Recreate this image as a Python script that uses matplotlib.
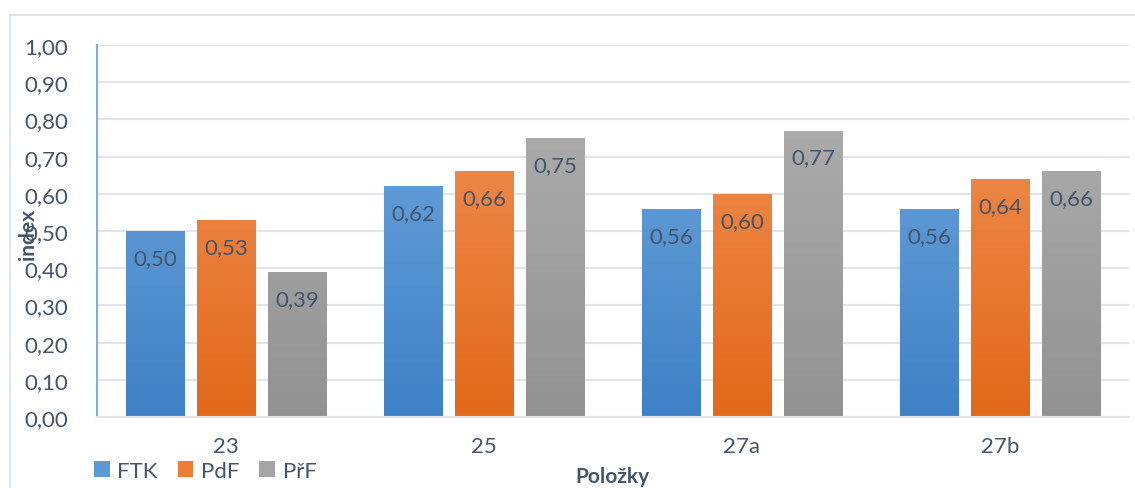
import numpy as np
import matplotlib
matplotlib.use("Agg")
import matplotlib.pyplot as plt
from matplotlib.patches import Rectangle, Patch
from matplotlib.colors import LinearSegmentedColormap

categories = ["23", "25", "27a", "27b"]
series_names = ["FTK", "PdF", "PřF"]
ftk = [0.50, 0.62, 0.56, 0.56]
pdf = [0.53, 0.66, 0.60, 0.64]
prf = [0.39, 0.75, 0.77, 0.66]
y_ticks = [0.0, 0.1, 0.2, 0.3, 0.4, 0.5, 0.6, 0.7, 0.8, 0.9, 1.0]

# (top colour, bottom colour) of each series' vertical gradient
gradients = [("#74AADF", "#3E81C6"), ("#F2965C", "#E2681A"), ("#B2B2B2", "#929292")]
solid = ["#5B9BD5", "#ED7D31", "#A5A5A5"]
text_color = "#44546A"
grid_color = "#E1E5EB"

plt.rcParams["font.family"] = ["Lato", "DejaVu Sans"]

W, H = 1135, 489
fig = plt.figure(figsize=(W / 100, H / 100), dpi=100)
fig.patches.append(Rectangle((10 / W, -0.1), 1.2, (489 - 16) / H + 0.1,
                             transform=fig.transFigure, fill=False,
                             edgecolor="#D9DEE6", linewidth=1.2))

ax = fig.add_axes([97 / W, (H - 418) / H, (1129 - 97) / W, (418 - 46) / H])

x = np.arange(len(categories))
width = 0.225
step = 0.275
all_series = [ftk, pdf, prf]

for i, (vals, (ctop, cbot)) in enumerate(zip(all_series, gradients)):
    bars = ax.bar(x + (i - 1) * step, vals, width, color=solid[i], zorder=2,
                  linewidth=0)
    cmap = LinearSegmentedColormap.from_list(f"g{i}", [cbot, ctop])
    grad = np.linspace(0, 1, 256).reshape(-1, 1)
    for b, v in zip(bars, vals):
        bx = b.get_x()
        bw = b.get_width()
        im = ax.imshow(grad, cmap=cmap, origin="lower", aspect="auto",
                       extent=(bx, bx + bw, 0, 1.0), zorder=2.5,
                       interpolation="bilinear")
        im.set_clip_path(b)
        ax.annotate(f"{v:.2f}".replace(".", ","), (bx + bw / 2, v),
                    xytext=(0, -27), textcoords="offset pixels",
                    ha="center", va="center", fontsize=16, color=text_color,
                    zorder=4)

ax.set_xlim(-0.5, len(categories) - 0.5)
ax.set_ylim(0, 1.0)
ax.set_yticks(y_ticks)
ax.set_yticklabels([f"{t:.2f}".replace(".", ",") for t in y_ticks])
ax.set_xticks(x)
ax.set_xticklabels(categories)
ax.tick_params(axis="both", length=0, labelsize=16, labelcolor=text_color)
ax.tick_params(axis="y", pad=21)
ax.tick_params(axis="x", pad=14)
ax.yaxis.grid(True, color=grid_color, linewidth=1.5, zorder=0)
ax.set_axisbelow(True)
for s in ["top", "right"]:
    ax.spines[s].set_visible(False)
ax.spines["left"].set_color("#7FAEDD")
ax.spines["left"].set_linewidth(1.5)
ax.spines["bottom"].set_color(grid_color)
ax.spines["bottom"].set_linewidth(1.5)

fig.text(28 / W, 1 - 235 / H, "index", rotation=90, ha="center", va="center",
         fontsize=15, fontweight="bold", color=text_color)
fig.text(612 / W, 1 - 477 / H, "Položky", ha="center", va="center",
         fontsize=15, fontweight="bold", color=text_color)

handles = [Patch(facecolor=c, edgecolor="none") for c in solid]
fig.legend(handles, series_names, loc="center left",
           bbox_to_anchor=(74 / W, 1 - 472 / H), ncol=3, frameon=False,
           fontsize=16, labelcolor=text_color, handlelength=0.7,
           handleheight=0.7, handletextpad=0.35, columnspacing=0.9)

fig.savefig("out.png", dpi=100)
